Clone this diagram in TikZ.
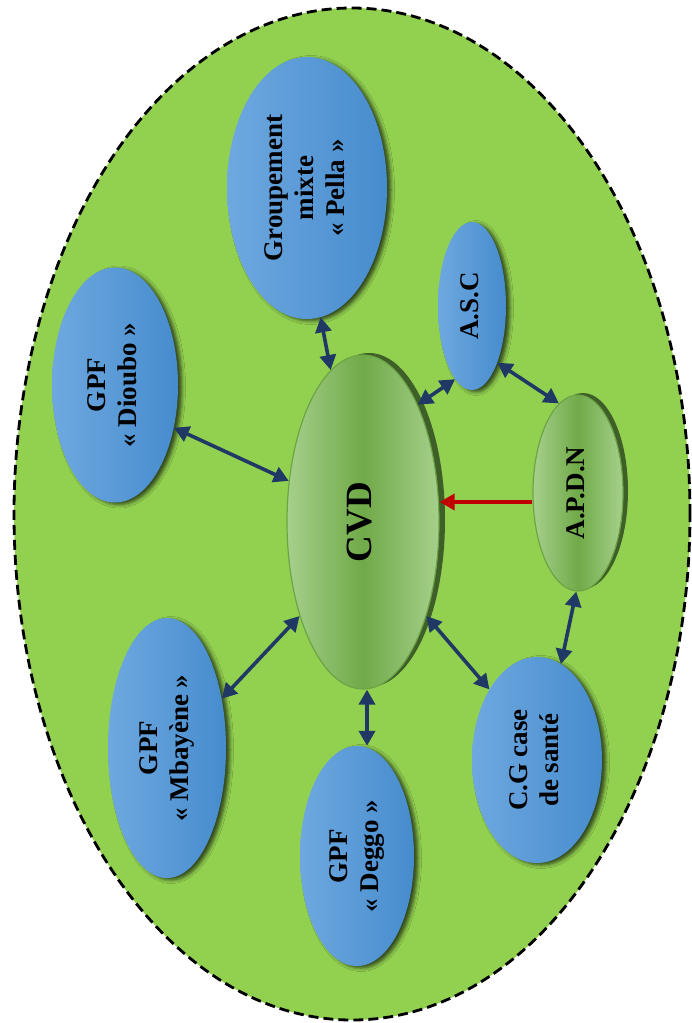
\documentclass[tikz,border=0pt]{standalone}
\usepackage{fontspec}
\setmainfont{Liberation Serif}
\usetikzlibrary{shapes.geometric,arrows.meta,shadows.blur}
\definecolor{bg}{HTML}{92D050}
\definecolor{blueL}{HTML}{6EA8E0}
\definecolor{blueR}{HTML}{468CCD}
\definecolor{gLight}{HTML}{A6D08C}
\definecolor{gDark}{HTML}{70AA48}
\definecolor{gEdge}{HTML}{6CA545}
\definecolor{gShadow}{HTML}{3E5F27}
\definecolor{navy}{HTML}{1F3864}
\definecolor{redA}{HTML}{C00000}
\newcommand\vlab[1]{\rotatebox{90}{\begin{tabular}{@{}c@{}}#1\end{tabular}}}
\begin{document}
\begin{tikzpicture}[x=1pt,y=-1pt,
  zone/.style={ellipse, draw=black, fill=bg, line width=2.8pt, dash pattern=on 10pt off 5pt, inner sep=0pt},
  blob/.style={ellipse, inner sep=0pt, left color=blueL, right color=blueR,
    blur shadow={shadow xshift=4pt, shadow yshift=-2pt, shadow blur radius=3.5pt, shadow opacity=65},
    font=\bfseries\fontsize{27}{31}\selectfont},
  gblob/.style={ellipse, inner sep=0pt, draw=gEdge, line width=1.2pt,
    left color=gLight, right color=gLight, middle color=gDark},
  dbl/.style={draw=navy, line width=3.6pt, {Triangle[length=15pt,width=16pt]}-{Triangle[length=15pt,width=16pt]}},
  redarrow/.style={draw=redA, line width=3.6pt, -{Triangle[length=15pt,width=16pt]}}
]
\useasboundingbox (0,0) rectangle (691,1023);
\node[zone, minimum width=676pt, minimum height=1012pt] (area) at (352,514) {};

\node[blob, minimum width=160pt, minimum height=262pt] (pella) at (307,188) {\vlab{Groupement\\mixte\\« Pella »}};
\node[blob, minimum width=126pt, minimum height=235pt] (dioubo) at (115,385) {\vlab{GPF\\« Dioubo »}};
\node[blob, minimum width=68pt, minimum height=168pt] (asc) at (472,306) {\vlab{A.S.C}};
\node[blob, minimum width=118pt, minimum height=260pt] (mbay) at (167,748) {\vlab{GPF\\« Mbayène »}};
\node[blob, minimum width=114pt, minimum height=220pt] (deggo) at (357,856) {\vlab{GPF\\« Deggo »}};
\node[blob, minimum width=130pt, minimum height=206pt] (cg) at (537,760) {\vlab{C.G case\\de santé}};

\fill[gShadow] (369,520) ellipse [x radius=76pt, y radius=167pt];
\node[gblob, minimum width=152pt, minimum height=334pt, font=\bfseries\fontsize{37}{40}\selectfont] (cvd) at (363,522) {\vlab{CVD}};
\fill[gShadow] (583,491) ellipse [x radius=45pt, y radius=98pt];
\node[gblob, minimum width=90pt, minimum height=196pt, font=\bfseries\fontsize{27}{31}\selectfont] (apdn) at (578,493) {\vlab{A.P.D.N}};

\draw[dbl] (pella.-84) -- (cvd.102);
\draw[dbl] (dioubo.-36) -- (cvd.151);
\draw[dbl] (asc.-103) -- (cvd.65);
\draw[dbl] (asc.-66) -- (apdn.102);
\draw[dbl] (apdn.-91) -- (cg.76);
\draw[dbl] (cvd.-56) -- (cg.124);
\draw[dbl] ([xshift=4pt]cvd.south) -- ([xshift=4pt]cvd.south |- deggo.north);
\draw[dbl] (cvd.-124) -- (mbay.42);
\draw[redarrow] ([yshift=-9pt]apdn.west) -- ([yshift=-9pt]apdn.west -| cvd.east);
\end{tikzpicture}
\end{document}
